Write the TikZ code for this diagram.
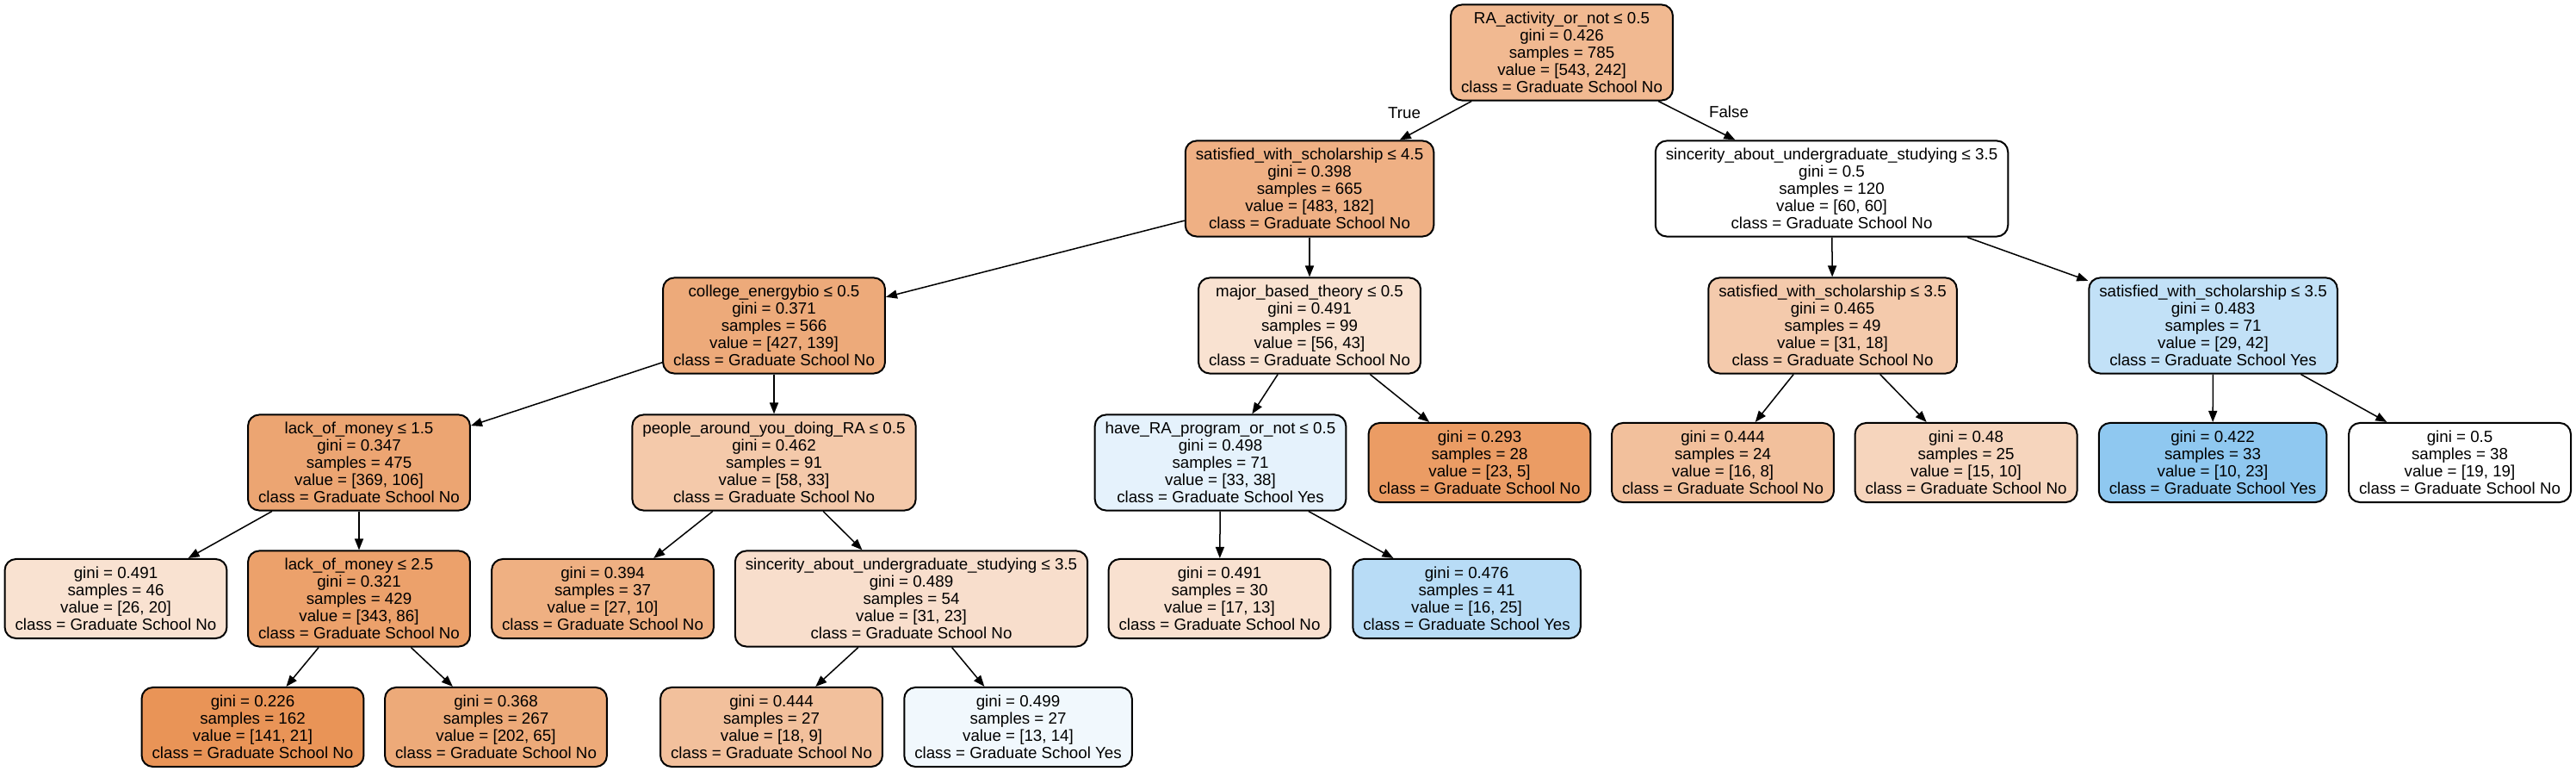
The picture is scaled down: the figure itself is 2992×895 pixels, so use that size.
\documentclass[tikz,border=0pt]{standalone}
\usepackage{fontspec}
\setmainfont{Liberation Sans}
\usetikzlibrary{arrows.meta}
\definecolor{noclass}{RGB}{229,129,57}
\definecolor{yesclass}{RGB}{57,157,229}
\tikzstyle{decision} = [draw=black, line width=0.02cm, rounded corners=0.13cm, align=center, inner xsep=0.12cm, inner ysep=0cm, minimum height=1.11cm, font=\fontsize{5.33pt}{5.69pt}\selectfont]
\tikzstyle{leaf} = [decision, minimum height=0.92cm]
\tikzstyle{arrow} = [line width=0.015cm, -{Triangle[length=0.13cm, width=0.1cm]}]
\tikzstyle{edgelabel} = [inner sep=0cm, font=\fontsize{5.33pt}{5.69pt}\selectfont]

\begin{document}
\begin{tikzpicture}[x=0.01cm, y=-0.01cm]
	\useasboundingbox (0,0) rectangle (2992,895);

	\node[decision, fill=noclass!55.4!white] (root) at (1814,61) {RA\_activity\_or\_not ≤ 0.5\\gini = 0.426\\samples = 785\\value = [543, 242]\\class = Graduate School No};

	\node[decision, fill=noclass!62.3!white] (satA) at (1521,219) {satisfied\_with\_scholarship ≤ 4.5\\gini = 0.398\\samples = 665\\value = [483, 182]\\class = Graduate School No};
	\node[decision, fill=white] (sincA) at (2127.5,219) {sincerity\_about\_undergraduate\_studying ≤ 3.5\\gini = 0.5\\samples = 120\\value = [60, 60]\\class = Graduate School No};

	\node[decision, fill=noclass!67.4!white] (college) at (899,378) {college\_energybio ≤ 0.5\\gini = 0.371\\samples = 566\\value = [427, 139]\\class = Graduate School No};
	\node[decision, fill=noclass!23.2!white] (major) at (1521,378) {major\_based\_theory ≤ 0.5\\gini = 0.491\\samples = 99\\value = [56, 43]\\class = Graduate School No};
	\node[decision, fill=noclass!41.9!white] (satB) at (2128.5,378) {satisfied\_with\_scholarship ≤ 3.5\\gini = 0.465\\samples = 49\\value = [31, 18]\\class = Graduate School No};
	\node[decision, fill=yesclass!31!white] (satC) at (2570.5,378) {satisfied\_with\_scholarship ≤ 3.5\\gini = 0.483\\samples = 71\\value = [29, 42]\\class = Graduate School Yes};

	\node[decision, fill=noclass!71.3!white] (lackA) at (417,537) {lack\_of\_money ≤ 1.5\\gini = 0.347\\samples = 475\\value = [369, 106]\\class = Graduate School No};
	\node[decision, fill=noclass!43.1!white] (people) at (899,537) {people\_around\_you\_doing\_RA ≤ 0.5\\gini = 0.462\\samples = 91\\value = [58, 33]\\class = Graduate School No};
	\node[decision, fill=yesclass!13.2!white] (haveRA) at (1417.5,537) {have\_RA\_program\_or\_not ≤ 0.5\\gini = 0.498\\samples = 71\\value = [33, 38]\\class = Graduate School Yes};
	\node[leaf, fill=noclass!78.3!white] (leafA) at (1718.5,537) {gini = 0.293\\samples = 28\\value = [23, 5]\\class = Graduate School No};
	\node[leaf, fill=noclass!50!white] (leafB) at (2001,537) {gini = 0.444\\samples = 24\\value = [16, 8]\\class = Graduate School No};
	\node[leaf, fill=noclass!33.3!white] (leafC) at (2283.5,537) {gini = 0.48\\samples = 25\\value = [15, 10]\\class = Graduate School No};
	\node[leaf, fill=yesclass!56.5!white] (leafD) at (2570,537) {gini = 0.422\\samples = 33\\value = [10, 23]\\class = Graduate School Yes};
	\node[leaf, fill=white] (leafE) at (2857,537) {gini = 0.5\\samples = 38\\value = [19, 19]\\class = Graduate School No};

	\node[leaf, fill=noclass!23.1!white] (leafF) at (134.5,695) {gini = 0.491\\samples = 46\\value = [26, 20]\\class = Graduate School No};
	\node[decision, fill=noclass!74.9!white] (lackB) at (417,695) {lack\_of\_money ≤ 2.5\\gini = 0.321\\samples = 429\\value = [343, 86]\\class = Graduate School No};
	\node[leaf, fill=noclass!63!white] (leafG) at (700,695) {gini = 0.394\\samples = 37\\value = [27, 10]\\class = Graduate School No};
	\node[decision, fill=noclass!25.8!white] (sincB) at (1058.5,695) {sincerity\_about\_undergraduate\_studying ≤ 3.5\\gini = 0.489\\samples = 54\\value = [31, 23]\\class = Graduate School No};
	\node[leaf, fill=noclass!23.5!white] (leafH) at (1416.5,695) {gini = 0.491\\samples = 30\\value = [17, 13]\\class = Graduate School No};
	\node[leaf, fill=yesclass!36!white] (leafI) at (1703.5,695) {gini = 0.476\\samples = 41\\value = [16, 25]\\class = Graduate School Yes};

	\node[leaf, fill=noclass!85.1!white] (leafJ) at (293.5,844) {gini = 0.226\\samples = 162\\value = [141, 21]\\class = Graduate School No};
	\node[leaf, fill=noclass!67.8!white] (leafK) at (576,844) {gini = 0.368\\samples = 267\\value = [202, 65]\\class = Graduate School No};
	\node[leaf, fill=noclass!50!white] (leafL) at (896,844) {gini = 0.444\\samples = 27\\value = [18, 9]\\class = Graduate School No};
	\node[leaf, fill=yesclass!7.1!white] (leafM) at (1182.5,844) {gini = 0.499\\samples = 27\\value = [13, 14]\\class = Graduate School Yes};

	\node[edgelabel] (truelabel) at (1631,131) {True};
	\node[edgelabel] (falselabel) at (2008,130) {False};

	\draw[arrow] (root) -- (satA);
	\draw[arrow] (root) -- (sincA);
	\draw[arrow] (satA) -- (college);
	\draw[arrow] (satA) -- (major);
	\draw[arrow] (sincA) -- (satB);
	\draw[arrow] (sincA) -- (satC);
	\draw[arrow] (college) -- (lackA);
	\draw[arrow] (college) -- (people);
	\draw[arrow] (major) -- (haveRA);
	\draw[arrow] (major) -- (leafA);
	\draw[arrow] (satB) -- (leafB);
	\draw[arrow] (satB) -- (leafC);
	\draw[arrow] (satC) -- (leafD);
	\draw[arrow] (satC) -- (leafE);
	\draw[arrow] (lackA) -- (leafF);
	\draw[arrow] (lackA) -- (lackB);
	\draw[arrow] (people) -- (leafG);
	\draw[arrow] (people) -- (sincB);
	\draw[arrow] (haveRA) -- (leafH);
	\draw[arrow] (haveRA) -- (leafI);
	\draw[arrow] (lackB) -- (leafJ);
	\draw[arrow] (lackB) -- (leafK);
	\draw[arrow] (sincB) -- (leafL);
	\draw[arrow] (sincB) -- (leafM);
\end{tikzpicture}
\end{document}
